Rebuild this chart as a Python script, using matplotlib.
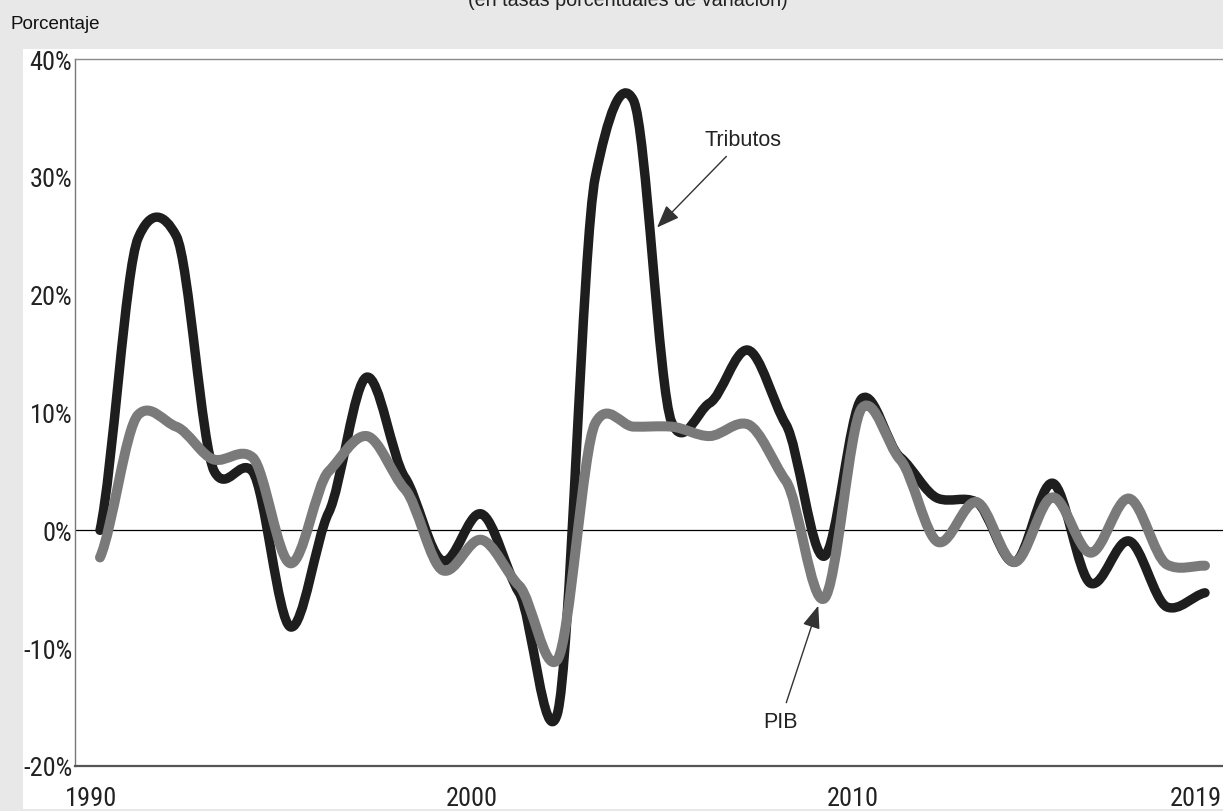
import numpy as np
import matplotlib
matplotlib.use("Agg")
import matplotlib.pyplot as plt
from matplotlib import font_manager
from matplotlib.path import Path
from matplotlib.patches import PathPatch, Rectangle
from matplotlib.transforms import ScaledTranslation

# Annual growth rates (%)
years = list(range(1990, 2020))
tributos = [0.0, 24.8, 25.0, 5.0, 5.0, -8.2, 1.5, 13.0, 4.5, -2.6,
            1.4, -5.3, -15.6, 30.0, 36.5, 9.2, 10.8, 15.3, 9.0, -2.2,
            11.2, 6.2, 2.7, 2.4, -2.7, 4.0, -4.5, -0.9, -6.5, -5.3]
pib = [-2.3, 9.8, 8.8, 6.0, 6.2, -2.8, 5.0, 8.0, 3.5, -3.4,
       -0.8, -4.7, -11.0, 9.1, 8.8, 8.8, 8.0, 9.0, 4.2, -5.8,
       10.4, 6.0, -1.0, 2.4, -2.7, 2.8, -1.9, 2.7, -2.9, -3.0]

y_ticks = [-20, -10, 0, 10, 20, 30, 40]
y_tick_labels = ["-20%", "-10%", "0%", "10%", "20%", "30%", "40%"]
x_ticks = [1990, 2000, 2010, 2019]

title = "(en tasas porcentuales de variación)"
y_title = "Porcentaje"

W, H = 1223, 812


def smooth_path(x, y, scale=0.6):
	"""Cardinal spline through the points (Catmull-Rom tangents scaled down)."""
	x = np.asarray(x, float)
	y = np.asarray(y, float)
	h = np.diff(x)
	m = np.zeros_like(y)
	m[1:-1] = scale * (y[2:] - y[:-2]) / (x[2:] - x[:-2])
	m[0] = scale * (y[1] - y[0]) / h[0]
	m[-1] = scale * (y[-1] - y[-2]) / h[-1]
	verts = [(x[0], y[0])]
	codes = [Path.MOVETO]
	for i in range(len(x) - 1):
		verts += [(x[i] + h[i] / 3, y[i] + m[i] * h[i] / 3),
		          (x[i + 1] - h[i] / 3, y[i + 1] - m[i + 1] * h[i] / 3),
		          (x[i + 1], y[i + 1])]
		codes += [Path.CURVE4] * 3
	return Path(verts, codes)


def main() -> None:
	names = {f.name for f in font_manager.fontManager.ttflist}
	narrow = next((n for n in ["Liberation Sans Narrow", "Roboto Condensed",
	                           "Open Sans Condensed"] if n in names), None)
	if narrow:
		tick_family = [narrow, "Liberation Sans"]
		tick_size = 19
	else:
		tick_family = ["Liberation Sans"]
		tick_size = 16.5
	plt.rcParams["font.family"] = ["Liberation Sans", "DejaVu Sans"]

	fig = plt.figure(figsize=(W / 100, H / 100), dpi=100, facecolor="#e8e8e8")
	# white panel behind the plot
	fig.add_artist(Rectangle((23 / W, 1 - 810 / H), 1200 / W, 760 / H,
	                         transform=fig.transFigure, facecolor="white",
	                         edgecolor="none", zorder=0))

	ax = fig.add_axes([75 / W, 1 - 767 / H, 1 - 75 / W, (767 - 60) / H])
	ax.set_facecolor("white")

	ax.axhline(0, color="black", lw=0.9, zorder=1)

	ax.add_patch(PathPatch(smooth_path(years, tributos), fill=False,
	                       edgecolor="#1e1e1e", lw=6.8, capstyle="round",
	                       joinstyle="round", zorder=2))
	ax.add_patch(PathPatch(smooth_path(years, pib), fill=False,
	                       edgecolor="#7a7a7a", lw=7.2, capstyle="round",
	                       joinstyle="round", zorder=3))

	ax.set_xlim(1990 - 25 / 38.1, 2019 + 18 / 38.1)
	ax.set_ylim(-20, 40)
	ax.set_yticks(y_ticks)
	ax.set_yticklabels(y_tick_labels)
	ax.set_xticks(x_ticks)
	ax.set_xticklabels([str(y) for y in x_ticks])
	ax.tick_params(axis="both", length=0, labelsize=tick_size, colors="#222222")
	ax.tick_params(axis="y", pad=2)
	ax.tick_params(axis="x", pad=14.5)
	offset = ScaledTranslation(-9 / 100, 0, fig.dpi_scale_trans)
	for lab in ax.get_xticklabels():
		lab.set_transform(lab.get_transform() + offset)
		lab.set_family(tick_family)
	for lab in ax.get_yticklabels():
		lab.set_family(tick_family)

	ax.spines["right"].set_visible(False)
	ax.spines["top"].set_color("#8a8a8a")
	ax.spines["top"].set_linewidth(1.0)
	ax.spines["left"].set_color("#777777")
	ax.spines["left"].set_linewidth(1.0)
	ax.spines["bottom"].set_color("#555555")
	ax.spines["bottom"].set_linewidth(1.6)

	arrow = dict(arrowstyle="-|>,head_length=0.9,head_width=0.35",
	             color="#333333", lw=1.0, shrinkA=4, shrinkB=0)
	ax.annotate("Tributos", xy=(2004.62, 25.7), xytext=(2006.88, 33.2),
	            ha="center", va="center", fontsize=15.5, color="#222222",
	            arrowprops=arrow, zorder=4)
	ax.annotate("PIB", xy=(2008.85, -6.4), xytext=(2007.85, -16.2),
	            ha="center", va="center", fontsize=15.5, color="#222222",
	            arrowprops=arrow, zorder=4)

	fig.text(628 / W, 1 - 6 / H, title, ha="center", va="baseline",
	         fontsize=14.2, color="#222222")
	fig.text(10 / W, 1 - 29 / H, y_title, ha="left", va="baseline",
	         fontsize=13.5, color="#111111")

	fig.savefig("out.png", dpi=100, facecolor=fig.get_facecolor())


if __name__ == "__main__":
	main()
